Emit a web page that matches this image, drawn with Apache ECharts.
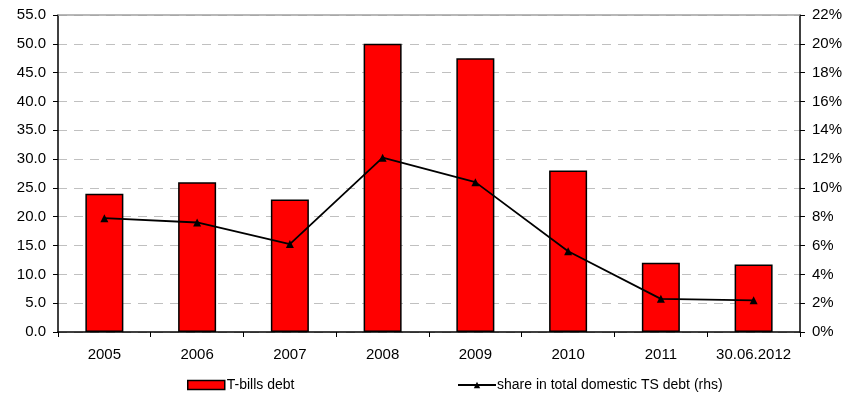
<!DOCTYPE html>
<html>
<head>
<meta charset="utf-8">
<script src="https://cdn.jsdelivr.net/npm/echarts@6/dist/echarts.min.js"></script>
<style>
  html, body { margin: 0; padding: 0; background: #fff; }
  #chart { width: 845px; height: 394px; }
</style>
</head>
<body>
<div id="chart"></div>
<script>
const categories = ['2005', '2006', '2007', '2008', '2009', '2010', '2011', '30.06.2012'];
const tbillsDebt = [24.0, 26.0, 23.0, 50.0, 47.5, 28.0, 12.0, 11.7];
const shareInDebt = [7.9, 7.6, 6.1, 12.1, 10.4, 5.6, 2.3, 2.2];

const chart = echarts.init(document.getElementById('chart'));
const font = 'Liberation Sans, Arial, sans-serif';

chart.setOption({
  animation: false,
  textStyle: { fontFamily: font },
  grid: { left: 58, right: 42, top: 15, bottom: 62 },
  legend: [
    {
      data: [{ name: 'T-bills debt', icon: 'rect',
        itemStyle: { color: '#ff0000', borderColor: '#000', borderWidth: 1.5 } }],
      left: 182, top: 373,
      itemWidth: 37, itemHeight: 9,
      textStyle: { fontFamily: font, fontSize: 14, color: '#000', padding: [0, 0, 0, -3] }
    },
    {
      data: ['share in total domestic TS debt (rhs)'],
      left: 452, top: 373,
      itemWidth: 38, itemHeight: 8,
      textStyle: { fontFamily: font, fontSize: 14, color: '#000', padding: [0, 0, 0, -4] }
    }
  ],
  xAxis: {
    type: 'category',
    data: categories,
    axisLine: { lineStyle: { color: '#000', width: 1.5 } },
    axisTick: { show: true, alignWithLabel: false, interval: 0, length: 5, lineStyle: { color: '#000' } },
    axisLabel: { color: '#000', fontSize: 15, margin: 15, interval: 0, fontFamily: font }
  },
  yAxis: [
    {
      type: 'value', min: 0, max: 55, interval: 5,
      axisLine: { show: true, lineStyle: { color: '#000', width: 1.5 } },
      axisTick: { show: true, length: 5, lineStyle: { color: '#000' } },
      axisLabel: { color: '#000', fontSize: 15, margin: 12, fontFamily: font,
        formatter: v => v.toFixed(1) },
      splitLine: { show: true, lineStyle: { color: '#c0c0c0', type: [9, 7] } }
    },
    {
      type: 'value', min: 0, max: 22, interval: 2,
      axisLine: { show: true, lineStyle: { color: '#000', width: 1.5 } },
      axisTick: { show: true, length: 5, lineStyle: { color: '#000' } },
      axisLabel: { color: '#000', fontSize: 15, margin: 12, fontFamily: font,
        formatter: v => v + '%' },
      splitLine: { show: false }
    }
  ],
  series: [
    {
      name: 'T-bills debt',
      type: 'bar',
      data: tbillsDebt,
      barWidth: 38,
      itemStyle: { color: '#ff0000', borderColor: '#000', borderWidth: 1.5 },
      markLine: {
        silent: true, symbol: 'none', label: { show: false },
        lineStyle: { color: '#a0a0a0', type: 'solid', width: 1.5 },
        data: [{ yAxis: 55 }]
      }
    },
    {
      name: 'share in total domestic TS debt (rhs)',
      type: 'line',
      yAxisIndex: 1,
      data: shareInDebt,
      symbol: 'triangle',
      symbolSize: 8,
      lineStyle: { color: '#000', width: 1.8 },
      itemStyle: { color: '#000' }
    }
  ]
});
</script>
</body>
</html>
